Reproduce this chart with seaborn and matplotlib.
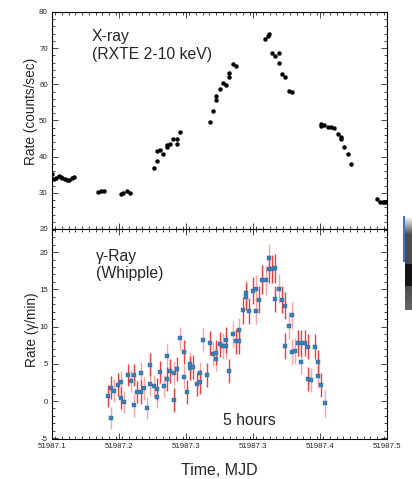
import numpy as np
import pandas as pd
import matplotlib
matplotlib.use("Agg")
import matplotlib.pyplot as plt
import seaborn as sns
from matplotlib.ticker import FixedLocator, MultipleLocator, FormatStrFormatter

# ---------------- data ----------------
xray_t = [51987.1000, 51987.1028, 51987.1052, 51987.1079, 51987.1107, 51987.1123,
          51987.1151, 51987.1179, 51987.1203, 51987.1234, 51987.1266,
          51987.1548, 51987.1584, 51987.1624,
          51987.1822, 51987.1850, 51987.1898, 51987.1937,
          51987.2212, 51987.2251, 51987.2251, 51987.2295, 51987.2331, 51987.2370,
          51987.2370, 51987.2414, 51987.2450, 51987.2490, 51987.2490, 51987.2529,
          51987.2883, 51987.2923, 51987.2962, 51987.2962, 51987.3002, 51987.3042,
          51987.3081, 51987.3117, 51987.3117, 51987.3157, 51987.3197,
          51987.3546, 51987.3582, 51987.3586, 51987.3626, 51987.3665, 51987.3705,
          51987.3705, 51987.3745, 51987.3785, 51987.3824, 51987.3864,
          51987.4213, 51987.4217, 51987.4249, 51987.4297, 51987.4329, 51987.4368,
          51987.4416, 51987.4452, 51987.4452, 51987.4492, 51987.4531, 51987.4571,
          51987.4881, 51987.4921, 51987.4952, 51987.4964, 51987.4992]
xray_rate = [35.2, 33.8, 34.1, 34.7, 34.5, 34.2, 33.7, 33.6, 33.6, 34.2, 34.3,
             30.3, 30.6, 30.6,
             29.6, 29.9, 30.5, 30.0,
             36.8, 38.7, 41.5, 41.9, 40.6, 42.7, 43.2, 43.6, 44.9, 44.9, 43.4, 46.7,
             49.5, 52.5, 55.6, 56.9, 58.6, 60.5, 59.8, 61.9, 63.1, 65.6, 65.0,
             72.6, 73.4, 73.9, 68.7, 67.7, 68.7, 65.8, 62.8, 62.1, 58.2, 57.9,
             48.9, 48.6, 48.8, 48.3, 48.3, 48.0, 46.3, 45.4, 44.8, 42.7, 40.6, 37.9,
             28.3, 27.5, 27.4, 27.6, 27.5]

gamma_t = [51987.1663, 51987.1703, 51987.1703, 51987.1743, 51987.1783, 51987.1822,
           51987.1822, 51987.1862, 51987.1902, 51987.1941, 51987.1977, 51987.1977,
           51987.2017, 51987.2057, 51987.2057, 51987.2096, 51987.2136, 51987.2176,
           51987.2176, 51987.2215, 51987.2255, 51987.2255, 51987.2295, 51987.2335,
           51987.2374, 51987.2374, 51987.2414, 51987.2454, 51987.2454, 51987.2494,
           51987.2533, 51987.2573, 51987.2573, 51987.2613, 51987.2648, 51987.2648,
           51987.2688, 51987.2728, 51987.2768, 51987.2768, 51987.2807, 51987.2847,
           51987.2883, 51987.2923, 51987.2962, 51987.2962, 51987.3002, 51987.3042,
           51987.3081, 51987.3081, 51987.3117, 51987.3157, 51987.3197, 51987.3236,
           51987.3236, 51987.3276, 51987.3316, 51987.3316, 51987.3356, 51987.3395,
           51987.3431, 51987.3431, 51987.3471, 51987.3510, 51987.3550, 51987.3586,
           51987.3586, 51987.3626, 51987.3665, 51987.3665, 51987.3705, 51987.3745,
           51987.3785, 51987.3785, 51987.3824, 51987.3864, 51987.3864, 51987.3900,
           51987.3939, 51987.3979, 51987.3979, 51987.4019, 51987.4059, 51987.4059,
           51987.4098, 51987.4138, 51987.4178, 51987.4178, 51987.4217, 51987.4257]
gamma_rate = [0.7, -2.3, 1.8, 1.4, 2.2, 2.5, 0.4, -0.1, 3.5, 2.7, 3.5, -0.6,
              1.2, 3.7, 1.2, 1.7, -0.9, 4.9, 2.3, 2.0, 1.6, 0.6, 3.9, 2.0,
              6.0, 3.0, 4.0, 3.8, 0.1, 4.3, 8.4, 6.6, 3.2, 1.2, 5.0, 4.4,
              4.6, 2.3, 3.7, 2.5, 8.2, 3.5, 7.8, 6.3, 6.5, 5.6, 7.6, 7.4,
              8.2, 7.4, 4.0, 9.0, 8.0, 9.5, 8.0, 12.2, 14.5, 14.0, 12.1, 14.8,
              15.0, 12.1, 13.6, 16.3, 16.2, 19.2, 17.7, 17.7, 17.8, 13.7, 15.1, 13.6,
              12.8, 7.4, 10.1, 11.5, 6.6, 6.7, 7.8, 7.8, 5.2, 7.8, 7.3, 3.0,
              2.8, 7.3, 5.2, 3.4, 2.1, -0.3]
gamma_err = [1.5, 1.5, 1.5, 1.5, 1.5, 1.5, 1.5, 1.5, 1.5, 1.5, 1.5, 1.5,
             1.5, 1.5, 1.6, 1.5, 1.5, 1.5, 1.6, 1.5, 1.5, 1.6, 1.5, 1.5,
             1.6, 1.6, 1.6, 1.6, 1.6, 1.6, 1.6, 1.6, 1.6, 1.6, 1.6, 1.6,
             1.6, 1.6, 1.6, 1.6, 1.6, 1.6, 1.6, 1.6, 1.7, 1.6, 1.7, 1.7,
             1.7, 1.7, 1.6, 1.7, 1.7, 1.7, 1.7, 1.8, 1.8, 1.8, 1.8, 1.8,
             1.9, 1.8, 1.8, 1.9, 1.9, 1.9, 1.9, 1.9, 1.9, 1.8, 1.9, 1.8,
             1.8, 1.7, 1.8, 1.8, 1.7, 1.7, 1.7, 1.7, 1.6, 1.7, 1.7, 1.6,
             1.6, 1.7, 1.7, 1.6, 1.6, 1.8]
gamma_set = ["A", "B", "A", "B", "A", "B", "A", "B", "A", "B", "A", "B",
             "A", "B", "A", "B", "B", "A", "B", "B", "A", "B", "A", "B",
             "B", "A", "A", "B", "A", "A", "B", "A", "B", "A", "B", "A",
             "A", "A", "B", "A", "B", "A", "A", "B", "A", "B", "A", "B",
             "A", "B", "A", "B", "A", "B", "A", "A", "B", "A", "A", "A",
             "B", "B", "A", "A", "B", "B", "A", "A", "A", "A", "B", "A",
             "A", "A", "B", "B", "B", "B", "A", "A", "B", "A", "A", "A",
             "B", "A", "A", "B", "A", "B"]

x_ticks = [51987.1, 51987.18, 51987.26, 51987.34, 51987.42, 51987.5]

xray = pd.DataFrame({"t": xray_t, "rate": xray_rate})
gamma = pd.DataFrame({"t": gamma_t, "rate": gamma_rate, "err": gamma_err, "set": gamma_set})

# ---------------- style ----------------
sns.set_style("ticks")
plt.rcParams["font.family"] = ["Liberation Sans", "DejaVu Sans"]
plt.rcParams["axes.unicode_minus"] = True

fig = plt.figure(figsize=(4.12, 4.79), dpi=100)
L, R = 52 / 412, 387 / 412
ax1 = fig.add_axes([L, 1 - 229 / 479, R - L, (229 - 12) / 479])
ax2 = fig.add_axes([L, 1 - 439 / 479, R - L, (439 - 229) / 479])

# ---- X-ray panel ----
sns.scatterplot(data=xray, x="t", y="rate", ax=ax1, color="black", s=8,
                edgecolor="black", linewidth=0.3, legend=False, zorder=3)
ax1.set_ylim(20, 80)
ax1.yaxis.set_major_locator(MultipleLocator(10))
ax1.yaxis.set_minor_locator(MultipleLocator(2))
ax1.set_ylabel("Rate (counts/sec)", fontsize=9.8, labelpad=1)
ax1.yaxis.label.set_y(0.54)
ax1.set_xlabel("")
ax1.tick_params(axis="x", labelbottom=False)
ax1.text(0.118, 0.92, "X-ray\n(RXTE 2-10 keV)", transform=ax1.transAxes,
         fontsize=11.3, va="top", ha="left", linespacing=1.2)

# ---- gamma panel ----
ecol = {"A": "#f13c3c", "B": "#f6a5a5"}
for s in ["B", "A"]:
    sub = gamma[gamma["set"] == s]
    ax2.errorbar(sub["t"], sub["rate"], yerr=sub["err"], fmt="none",
                 ecolor=ecol[s], elinewidth=1.0, capsize=0, zorder=2)
sns.scatterplot(data=gamma, x="t", y="rate", ax=ax2, color="#3a7fb6", marker="s",
                s=6, edgecolor="#2c6a9e", linewidth=0.3, legend=False, zorder=3)
ax2.set_ylim(-5.1, 23.1)
ax2.yaxis.set_major_locator(MultipleLocator(5))
ax2.yaxis.set_minor_locator(MultipleLocator(1))
ax2.set_ylabel("Rate (γ/min)", fontsize=9.8, labelpad=0)
ax2.yaxis.label.set_y(0.52)
ax2.set_xlabel("Time, MJD", fontsize=11.5, labelpad=9)
ax2.text(0.132, 0.905, "γ-Ray\n(Whipple)", transform=ax2.transAxes,
         fontsize=11.3, va="top", ha="left", linespacing=1.15)
ax2.text(0.588, 0.09, "5 hours", transform=ax2.transAxes, fontsize=11.3,
         va="center", ha="center")

for ax in (ax1, ax2):
    ax.set_xlim(51987.1, 51987.5)
    ax.xaxis.set_major_locator(FixedLocator(x_ticks))
    ax.xaxis.set_minor_locator(MultipleLocator(0.008))
    ax.xaxis.set_major_formatter(FormatStrFormatter("%.1f"))
    ax.tick_params(which="both", direction="in", top=True, right=True,
                   labelsize=5.7, width=0.6, pad=3)
    ax.tick_params(which="major", length=4)
    ax.tick_params(which="minor", length=2)
    for sp in ax.spines.values():
        sp.set_linewidth(0.8)
        sp.set_color("black")
ax1.yaxis.set_major_formatter(FormatStrFormatter("%d"))
ax2.yaxis.set_major_formatter(FormatStrFormatter("%d"))

# small decoration at the right edge
axd = fig.add_axes([403 / 412, 1 - 310 / 479, 9 / 412, 94 / 479])
img = np.ones((94, 9, 3))
img[:46, 0:2, :] = [0.25, 0.45, 0.8]
for r in range(94):
    if r < 18:
        g = 1.0 - (r / 18.0) * 0.7
    elif r < 48:
        g = 0.3
    elif r < 70:
        g = 0.08
    else:
        g = 0.3 + (r - 70) / 24.0 * 0.1
    img[r, 2:, :] = g
axd.imshow(img, aspect="auto", interpolation="nearest")
axd.axis("off")

fig.savefig("out.png", dpi=100)
